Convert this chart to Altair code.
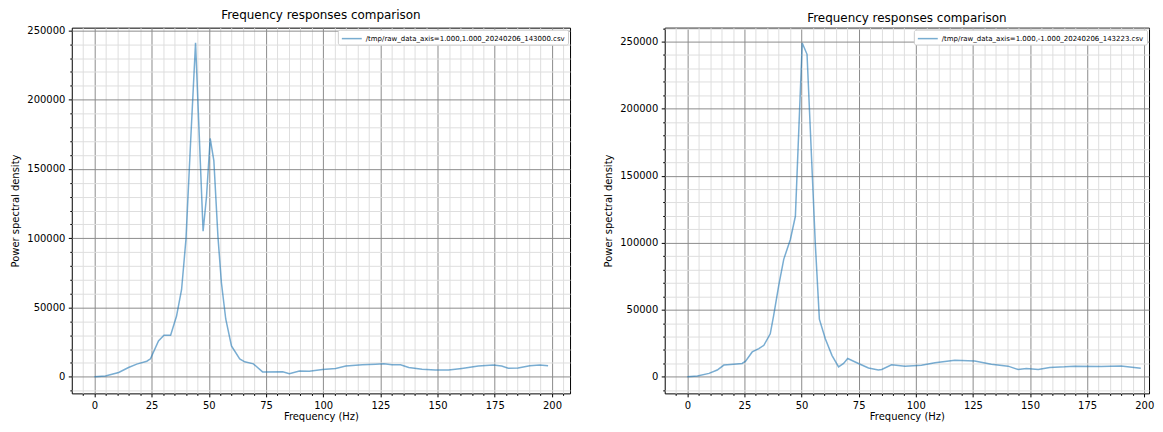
import altair as alt
import pandas as pd

# ---------------- data ----------------
left_label = "/tmp/raw_data_axis=1.000,1.000_20240206_143000.csv"
right_label = "/tmp/raw_data_axis=1.000,-1.000_20240206_143223.csv"

left_freq = [0, 4.8, 10.6, 14.9, 18.5, 22.9, 24.5, 28.0, 30.4, 33.3, 35.9, 38.1, 40.0,
             42.0, 44.2, 47.5, 49.0, 50.6, 52.2, 54.0, 55.5, 57.4, 59.9, 63.5, 65.7,
             69.5, 73.5, 82.3, 85.2, 89.6, 93.9, 99.7, 105.5, 109.9, 117.1, 122.9,
             126.5, 130.1, 133.8, 137.4, 143.2, 149.0, 154.8, 160.6, 167.8, 174.3,
             178.0, 180.9, 185.2, 190.3, 194.6, 198.3]
left_psd = [0, 500, 3100, 6700, 9100, 11200, 13000, 25900, 30000, 30000, 43800, 63000, 99000,
            168000, 241000, 105000, 130000, 172000, 156000, 101000, 68000, 41700, 22300, 12900, 10800,
            9300, 3500, 3600, 2200, 4100, 4000, 5300, 6000, 7700, 8600, 9100,
            9400, 8600, 8600, 6700, 5500, 4800, 4800, 6000, 7700, 8400,
            7700, 6200, 6300, 7900, 8400, 7900]

right_freq = [0, 4.4, 9.5, 13.1, 16.0, 18.9, 24.0, 25.5, 28.4, 31.3, 33.5, 36.3, 37.8,
              40.0, 42.2, 45.1, 47.3, 50.3, 52.4, 56.0, 57.8, 60.4, 63.3, 66.2, 68.4,
              70.2, 74.9, 79.3, 83.6, 85.1, 89.4, 95.3, 102.5, 108.4, 117.1, 125.8,
              133.1, 140.4, 144.8, 148.4, 153.6, 158.6, 165.2, 169.5, 181.1, 189.8, 198.5]
right_psd = [0, 500, 2500, 5000, 8700, 9200, 9900, 11600, 18500, 21000, 23500, 32000, 45700,
             67900, 87600, 102400, 119700, 249000, 240500, 100000, 43000, 28400, 16000, 7400, 9900,
             13600, 9900, 6500, 5000, 5400, 8900, 7900, 8600, 10400, 12300, 11800,
             9400, 7900, 5400, 6200, 5400, 6900, 7400, 7900, 7600, 8100, 6400]

x_major = [0, 25, 50, 75, 100, 125, 150, 175, 200]
x_minor = [v for v in range(-5, 206, 5) if v % 25 != 0]
y_major_left = [0, 50000, 100000, 150000, 200000, 250000]
y_minor_left = [v for v in range(-10000, 250001, 10000) if v % 50000 != 0]
y_major_right = [0, 50000, 100000, 150000, 200000, 250000]
y_minor_right = [v for v in range(-10000, 260001, 10000) if v % 50000 != 0]

TITLE = "Frequency responses comparison"
FONT = "DejaVu Sans"
PLOT_H = 367


def panel(freq, psd, label, xdom, ydom, width, y_major, y_minor):
    df = pd.DataFrame({"freq": freq, "psd": psd, "series": [label] * len(freq)})
    xs = alt.Scale(domain=xdom, nice=False, zero=False)
    ys = alt.Scale(domain=ydom, nice=False, zero=False)
    xmin = [v for v in x_minor if xdom[0] < v < xdom[1]]
    base = alt.Chart(df)
    minor = base.mark_line(opacity=0).encode(
        x=alt.X("freq:Q", scale=xs,
                axis=alt.Axis(values=xmin, orient="bottom", grid=True, gridColor="#dedede",
                              gridWidth=1, tickSize=2, tickColor="black", labels=False,
                              title=None, domain=False)),
        y=alt.Y("psd:Q", scale=ys,
                axis=alt.Axis(values=y_minor, orient="left", grid=True, gridColor="#dedede",
                              gridWidth=1, tickSize=2, tickColor="black", labels=False,
                              title=None, domain=False)),
    )
    major = base.mark_line(strokeWidth=1.5, opacity=0.6).encode(
        x=alt.X("freq:Q", scale=xs,
                axis=alt.Axis(values=x_major, orient="bottom", grid=True, gridColor="#8c8c8c",
                              gridWidth=1, tickSize=3.5, tickColor="black", labelPadding=3.5,
                              format="d", title="Frequency (Hz)", titlePadding=1, domain=False)),
        y=alt.Y("psd:Q", scale=ys,
                axis=alt.Axis(values=y_major, orient="left", grid=True, gridColor="#8c8c8c",
                              gridWidth=1, tickSize=3.5, tickColor="black", labelPadding=3.5,
                              format="d", title="Power spectral density", titlePadding=5,
                              minExtent=46, maxExtent=46, domain=False)),
        color=alt.Color("series:N",
                        scale=alt.Scale(domain=[label], range=["#1f77b4"]),
                        legend=alt.Legend(title=None, orient="top-right", offset=2, padding=3,
                                          labelFontSize=7, labelFont=FONT, labelColor="black",
                                          labelLimit=0,
                                          symbolType="M-1,0H3", symbolSize=100,
                                          symbolStrokeWidth=1.5, symbolOpacity=0.6,
                                          labelOffset=13, strokeColor="#cccccc",
                                          fillColor="white", cornerRadius=2)),
    )
    return alt.layer(minor, major).resolve_axis(x="independent", y="independent").properties(
        width=width, height=PLOT_H, title=TITLE)


left = panel(left_freq, left_psd, left_label, [-9.9, 207.9], [-12000, 252000], 500,
             y_major_left, y_minor_left)
right = panel(right_freq, right_psd, right_label, [-9.9, 202.1], [-12400, 260400], 486,
              y_major_right, y_minor_right)

chart = alt.hconcat(left, right, spacing=32).resolve_scale(
    x="independent", y="independent", color="independent"
).resolve_legend(color="independent").properties(
    padding={"left": 2, "top": 0, "right": 0, "bottom": -1}
).configure_axis(
    labelFont=FONT, labelFontSize=10, labelColor="black",
    titleFont=FONT, titleFontSize=10, titleFontWeight="normal", titleColor="black",
).configure_title(
    font=FONT, fontSize=12, fontWeight="normal", color="black", offset=3, anchor="middle"
).configure_view(stroke="black", strokeWidth=1)

chart.save("out.html", embed_options={"renderer": "svg", "actions": False})
